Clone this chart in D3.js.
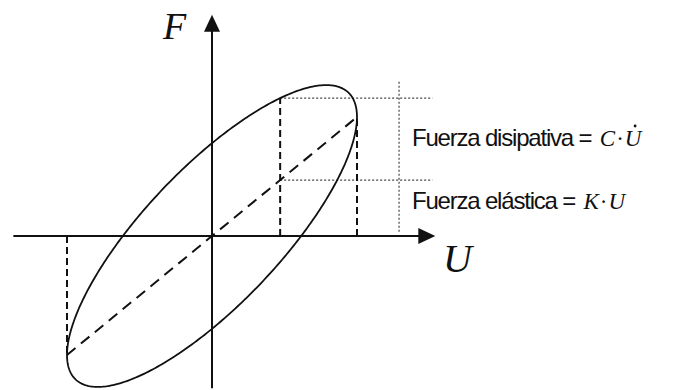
<!DOCTYPE html>
<html>
<head>
<meta charset="utf-8">
<script src="https://cdn.jsdelivr.net/npm/d3@7"></script>
<style>
  html, body { margin: 0; padding: 0; background: #fff; }
  svg { display: block; }
</style>
</head>
<body>
<svg id="chart" width="676" height="390"></svg>
<script>
// Hysteresis loop of a viscous damper: F = K·U + C·U̇ with U = A·sin(ωt)
const displacementAmplitude = [10];      // A (U units)
const elasticPeak = [10];                // K·A (F units)
const dissipativePeak = [7.8];           // C·ω·A (F units)
const markedDisplacement = [4.7];        // U where both force components are shown
const uAxisExtent = [-13.7, 15.4];
const fAxisExtent = [-12.8, 18.6];
const bracketU = [12.9];                 // vertical dotted bracket position
const bracketF = [0.35, 13.1];           // vertical dotted bracket extent
const guideEndU = [15.2];                // end of horizontal dotted guides
const axisLabels = ["F", "U"];
const componentLabels = ["Fuerza disipativa = ", "Fuerza elástica = "];
const componentSymbols = [["C", "U", true], ["K", "U", false]];

const svg = d3.select("#chart");
const x = d3.scaleLinear().domain([0, 10]).range([212, 357]);
const y = d3.scaleLinear().domain([0, 10]).range([236, 117]);

const A = displacementAmplitude[0];
const K = elasticPeak[0] / A;
const Cw = dissipativePeak[0];
const ink = "#111";

function applyAttrs(sel, attrs) { Object.entries(attrs).forEach(([k, v]) => sel.attr(k, v)); return sel; }

// Ellipse sampled over one cycle
const t = d3.range(0, 2 * Math.PI, Math.PI / 180);
const loop = t.map(a => {
  const u = A * Math.sin(a);
  return [u, K * u + Cw * Math.cos(a)];
});
const line = d3.line().x(d => x(d[0])).y(d => y(d[1]));

// Axes
svg.append("line")
  .attr("x1", x(uAxisExtent[0])).attr("x2", x(uAxisExtent[1]) - 14)
  .attr("y1", y(0)).attr("y2", y(0))
  .attr("stroke", ink).attr("stroke-width", 2);
svg.append("line")
  .attr("x1", x(0)).attr("x2", x(0))
  .attr("y1", y(fAxisExtent[0])).attr("y2", y(fAxisExtent[1]) + 14)
  .attr("stroke", ink).attr("stroke-width", 2);

// Arrowheads
const ux = x(uAxisExtent[1]), uy = y(0);
svg.append("path")
  .attr("d", `M${ux},${uy} L${ux - 17},${uy - 8} L${ux - 17},${uy + 8} Z`)
  .attr("fill", ink);
const fx = x(0), fy = y(fAxisExtent[1]);
svg.append("path")
  .attr("d", `M${fx},${fy} L${fx - 8},${fy + 17} L${fx + 8},${fy + 17} Z`)
  .attr("fill", ink);

// Dotted guides
const u0 = markedDisplacement[0];
const fElastic = K * u0;
const fTotal = fElastic + Cw * Math.sqrt(1 - (u0 / A) ** 2);
const dotted = { stroke: "#444", "stroke-width": 1.2, "stroke-dasharray": "2,2" };

[fTotal, fElastic].forEach(f => {
  applyAttrs(svg.append("line")
    .attr("x1", x(u0)).attr("x2", x(guideEndU[0]))
    .attr("y1", y(f)).attr("y2", y(f)), dotted);
});
applyAttrs(svg.append("line")
  .attr("x1", x(bracketU[0])).attr("x2", x(bracketU[0]))
  .attr("y1", y(bracketF[0])).attr("y2", y(bracketF[1])), dotted);

// Dashed construction lines
const dashedV = { stroke: ink, "stroke-width": 2, "stroke-dasharray": "7,4" };
applyAttrs(svg.append("line")
  .attr("x1", x(-A)).attr("x2", x(-A)).attr("y1", y(0)).attr("y2", y(-K * A)), dashedV);
applyAttrs(svg.append("line")
  .attr("x1", x(A)).attr("x2", x(A)).attr("y1", y(0)).attr("y2", y(K * A)), dashedV);
applyAttrs(svg.append("line")
  .attr("x1", x(u0)).attr("x2", x(u0)).attr("y1", y(0)).attr("y2", y(fTotal)), dashedV);
svg.append("line")
  .attr("x1", x(-A)).attr("y1", y(-K * A))
  .attr("x2", x(A)).attr("y2", y(K * A))
  .attr("stroke", ink).attr("stroke-width", 2)
  .attr("stroke-dasharray", "11,7");

// Loop
svg.append("path")
  .datum(loop)
  .attr("d", d => line(d) + "Z")
  .attr("fill", "none")
  .attr("stroke", ink)
  .attr("stroke-width", 1.8);

// Axis labels
svg.append("text")
  .attr("x", 163).attr("y", 39)
  .attr("font-family", "Liberation Serif, serif")
  .attr("font-style", "italic")
  .attr("font-size", 38)
  .attr("fill", ink)
  .text(axisLabels[0]);
svg.append("text")
  .attr("x", 443).attr("y", 272)
  .attr("font-family", "Liberation Serif, serif")
  .attr("font-style", "italic")
  .attr("font-size", 40)
  .attr("fill", ink)
  .text(axisLabels[1]);

// Force component labels, one text element each
const labelBaselines = [146, 209];
componentLabels.forEach((lab, i) => {
  const [s1, s2, hasDot] = componentSymbols[i];
  const txt = svg.append("text")
    .attr("x", 412).attr("y", labelBaselines[i])
    .attr("font-family", "Liberation Sans, Arial, sans-serif")
    .attr("font-size", 24)
    .attr("letter-spacing", -1.2)
    .attr("fill", ink)
    .attr("xml:space", "preserve");
  txt.append("tspan").text(lab);
  const serifAttrs = { "font-family": "Liberation Serif, serif", "font-style": "italic", "font-size": 23, "letter-spacing": 0 };
  applyAttrs(txt.append("tspan"), serifAttrs).attr("dx", 3).text(s1);
  applyAttrs(txt.append("tspan"), serifAttrs).attr("font-style", "normal").attr("dx", 1).text("·");
  const uSpan = applyAttrs(txt.append("tspan"), serifAttrs).attr("dx", 1).text(s2);
  if (hasDot) {
    const n = uSpan.node();
    const start = n.getStartPositionOfChar(0);
    const end = n.getEndPositionOfChar(0);
    svg.append("circle")
      .attr("cx", (start.x + end.x) / 2 + 2).attr("cy", labelBaselines[i] - 20)
      .attr("r", 1.4).attr("fill", ink);
  }
});
</script>
</body>
</html>
